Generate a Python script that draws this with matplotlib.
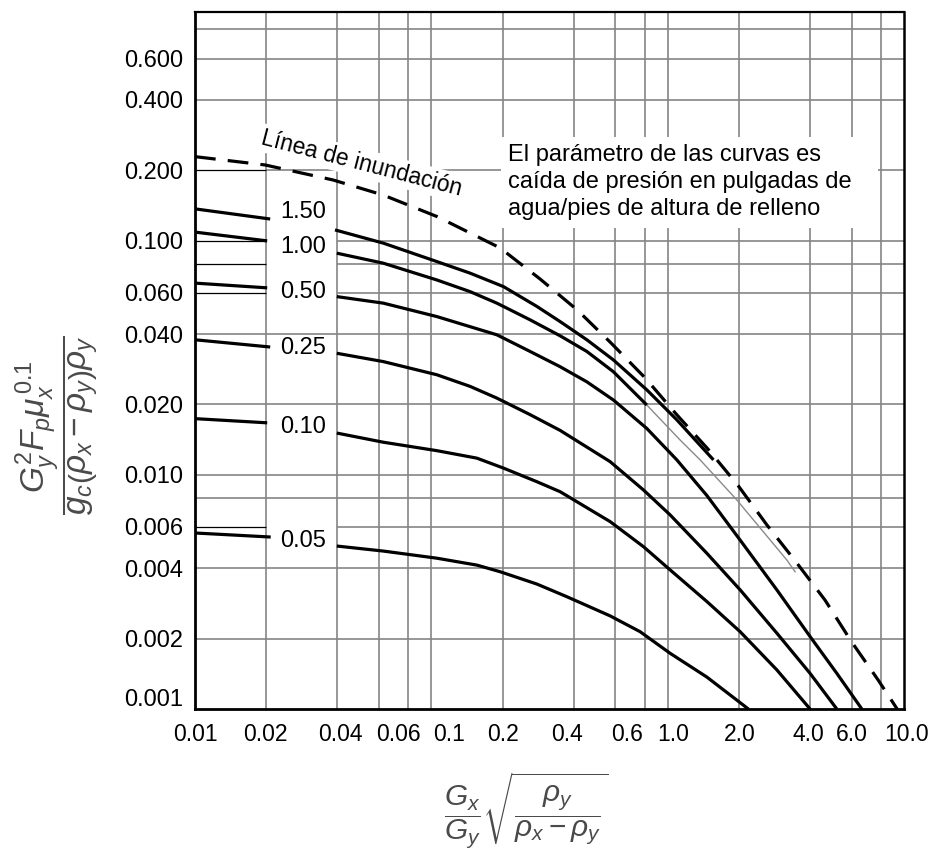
import matplotlib
matplotlib.use("Agg")
import matplotlib.pyplot as plt
from matplotlib.patches import Rectangle
from matplotlib.transforms import ScaledTranslation

plt.rcParams["font.family"] = ["Liberation Sans", "DejaVu Sans"]
plt.rcParams["mathtext.fontset"] = "custom"
plt.rcParams["mathtext.rm"] = "Liberation Sans"
plt.rcParams["mathtext.it"] = "Liberation Sans:italic"
plt.rcParams["mathtext.bf"] = "Liberation Sans:bold"

# ---- axis ticks -------------------------------------------------------
x_ticks = [0.01, 0.02, 0.04, 0.06, 0.1, 0.2, 0.4, 0.6, 1.0, 2.0, 4.0, 6.0, 10.0]
x_tick_labels = ["0.01", "0.02", "0.04", "0.06", "0.1", "0.2", "0.4", "0.6",
                 "1.0", "2.0", "4.0", "6.0", "10.0"]
y_ticks = [0.001, 0.002, 0.004, 0.006, 0.010, 0.020, 0.040, 0.060, 0.100,
           0.200, 0.400, 0.600]
y_tick_labels = ["0.001", "0.002", "0.004", "0.006", "0.010", "0.020", "0.040",
                 "0.060", "0.100", "0.200", "0.400", "0.600"]
x_grid = [0.02, 0.04, 0.06, 0.08, 0.1, 0.2, 0.4, 0.6, 0.8, 1.0, 2.0, 4.0, 6.0, 8.0]
y_grid = [0.002, 0.004, 0.006, 0.008, 0.01, 0.02, 0.04, 0.06, 0.08, 0.1,
          0.2, 0.4, 0.6, 0.8]

# ---- flooding line ----------------------------------------------------
flood_x = [0.01, 0.0198, 0.0384, 0.0625, 0.1057, 0.195, 0.288, 0.414, 0.576,
           0.802, 1.086, 1.48, 1.99, 2.63, 3.49, 4.63, 5.97, 7.77, 9.35]
flood_y = [0.229, 0.211, 0.182, 0.157, 0.127, 0.0934, 0.0688, 0.0507, 0.0366,
           0.026, 0.0182, 0.0129, 0.00898, 0.00611, 0.00425, 0.00292, 0.00195,
           0.00133, 0.001]

# ---- pressure-drop curves (in. water / ft packing) ----------------------
labels = ["1.50", "1.00", "0.50", "0.25", "0.10", "0.05"]

stub_x_150 = [0.01, 0.0208]
stub_y_150 = [0.137, 0.124]
x_150 = [0.0391, 0.0626, 0.1054, 0.1458, 0.2017, 0.2793, 0.3506, 0.4547,
         0.5891, 0.8156, 1.0927, 1.5612]
y_150 = [0.1114, 0.0978, 0.0816, 0.0728, 0.0638, 0.0525, 0.0452, 0.0378,
         0.0310, 0.0231, 0.0172, 0.0116]

stub_x_100 = [0.01, 0.0202]
stub_y_100 = [0.109, 0.100]
x_100 = [0.0398, 0.0626, 0.1054, 0.1458, 0.1892, 0.2616, 0.3506, 0.4547,
         0.5891, 0.8156]
y_100 = [0.0886, 0.0803, 0.0681, 0.0607, 0.0542, 0.0460, 0.0393, 0.0337,
         0.0276, 0.0199]
tail_x_100 = [0.8156, 1.1284, 1.3713, 1.9607, 3.1915, 3.4593]
tail_y_100 = [0.0199, 0.0141, 0.0116, 0.00782, 0.00433, 0.00386]

stub_x_050 = [0.01, 0.0202]
stub_y_050 = [0.066, 0.063]
x_050 = [0.0398, 0.0626, 0.1054, 0.1458, 0.1892, 0.2616, 0.3506, 0.4547,
         0.5891, 0.8156, 1.0927, 1.4670, 2.0247, 2.8947, 4.0027, 5.1951, 6.6284]
y_050 = [0.0578, 0.0542, 0.0475, 0.0430, 0.0397, 0.0337, 0.0290, 0.0250,
         0.0209, 0.0158, 0.0116, 0.00815, 0.00527, 0.00323, 0.00204, 0.00142,
         0.001]

stub_x_025 = [0.01, 0.0208]
stub_y_025 = [0.0378, 0.0352]
x_025 = [0.0398, 0.0626, 0.1054, 0.1458, 0.1892, 0.2616, 0.3506, 0.5705,
         0.7892, 1.0237, 1.4636, 2.0247, 2.8947, 4.0027, 5.1951]
y_025 = [0.0331, 0.0305, 0.0268, 0.0239, 0.0213, 0.0181, 0.0155, 0.0114,
         0.00863, 0.00675, 0.00463, 0.00323, 0.00211, 0.00142, 0.001]

stub_x_010 = [0.01, 0.0202]
stub_y_010 = [0.0174, 0.0167]
x_010 = [0.0398, 0.0626, 0.1054, 0.1557, 0.2017, 0.2793, 0.3506, 0.5705,
         0.7892, 1.0237, 1.4636, 2.0247, 2.8947, 4.0027]
y_010 = [0.0151, 0.0138, 0.0127, 0.0118, 0.0107, 0.00936, 0.00848, 0.00632,
         0.00494, 0.00393, 0.00288, 0.00214, 0.00147, 0.001]

stub_x_005 = [0.01, 0.0209]
stub_y_005 = [0.00565, 0.00543]
x_005 = [0.0398, 0.0626, 0.1054, 0.1557, 0.1953, 0.2793, 0.3740, 0.5705,
         0.7641, 1.0237, 1.4636, 2.1951]
y_005 = [0.00497, 0.00473, 0.00441, 0.00412, 0.00386, 0.00342, 0.00302,
         0.00250, 0.00214, 0.00173, 0.00137, 0.001]

label_x = 0.0286
label_y = [0.133, 0.0942, 0.0605, 0.0349, 0.016, 0.00522]

# ---- figure -----------------------------------------------------------
fig = plt.figure(figsize=(9.39, 8.52), dpi=100)
ax = fig.add_axes([0.2077, 0.1678, 0.7551, 0.8181])
ax.set_xscale("log")
ax.set_yscale("log")
ax.set_xlim(0.01, 10.0)
ax.set_ylim(0.001, 0.95)

grid_c = "#858585"
grid_lw = 1.2
ax.vlines(x_grid, 0.001, 0.95, color=grid_c, lw=grid_lw, zorder=1)
# horizontal lines that break around the curve-label column
broken = [0.006, 0.06, 0.08, 0.1]
for yv in y_grid:
    if yv in broken:
        ax.hlines(yv, 0.04, 10.0, color=grid_c, lw=grid_lw, zorder=1)
        ax.hlines(yv, 0.01, 0.02, color="black", lw=0.9, zorder=1.2)
    elif yv == 0.2:
        ax.hlines(yv, 0.02, 10.0, color=grid_c, lw=grid_lw, zorder=1)
        ax.hlines(yv, 0.01, 0.02, color="black", lw=0.9, zorder=1.2)
    else:
        ax.hlines(yv, 0.01, 10.0, color=grid_c, lw=grid_lw, zorder=1)

curve_kw = dict(color="black", lw=2.3, solid_capstyle="butt",
                solid_joinstyle="round", zorder=3)
for sx, sy in [(stub_x_150, stub_y_150), (stub_x_100, stub_y_100),
               (stub_x_050, stub_y_050), (stub_x_025, stub_y_025),
               (stub_x_010, stub_y_010), (stub_x_005, stub_y_005)]:
    ax.plot(sx, sy, **curve_kw)
for cx, cy in [(x_150, y_150), (x_100, y_100), (x_050, y_050),
               (x_025, y_025), (x_010, y_010), (x_005, y_005)]:
    ax.plot(cx, cy, **curve_kw)
ax.plot(tail_x_100, tail_y_100, color="#8a8a8a", lw=1.0, zorder=2.5)

ax.plot(flood_x, flood_y, color="black", lw=2.3, dashes=(6.5, 3.8),
        dash_capstyle="butt", zorder=3)

for lab, ly in zip(labels, label_y):
    ax.text(label_x, ly, lab, fontsize=17, ha="center", va="center", zorder=4,
            bbox=dict(facecolor="white", edgecolor="none", pad=1.5))

ax.text(0.0504, 0.215, "Línea de inundación", fontsize=16.5, rotation=-14.5,
        rotation_mode="anchor", ha="center", va="center", zorder=4,
        bbox=dict(facecolor="white", edgecolor="none", pad=2))

ax.add_patch(Rectangle((0.4316, 0.690), 0.532, 0.1307, transform=ax.transAxes,
                       facecolor="white", edgecolor="none", zorder=2))
ax.text(0.4415, 0.8104,
        "El parámetro de las curvas es\ncaída de presión en pulgadas de\n"
        "agua/pies de altura de relleno",
        transform=ax.transAxes, fontsize=17, ha="left", va="top",
        linespacing=1.3, zorder=4)

ax.set_xticks(x_ticks)
ax.set_xticklabels(x_tick_labels, fontsize=16.5)
ax.set_yticks(y_ticks)
ax.set_yticklabels(y_tick_labels, fontsize=17)
ax.minorticks_off()
ax.tick_params(axis="both", length=0)
ax.tick_params(axis="x", pad=10)
ax.tick_params(axis="y", pad=8.5)

# hand-lettered label placement along the x axis (pixel nudges)
x_label_shift = [0, -1, 3, 19, 18, 0, -7, 12, 5, 1, -2, 0, 2]
for lab, dx in zip(ax.get_xticklabels(), x_label_shift):
    lab.set_transform(lab.get_transform() +
                      ScaledTranslation(dx / 100, 0, fig.dpi_scale_trans))
lab0 = ax.get_yticklabels()[0]
lab0.set_transform(lab0.get_transform() +
                   ScaledTranslation(0, 12 / 100, fig.dpi_scale_trans))

for side, lw in [("left", 2.0), ("bottom", 2.0), ("top", 1.6), ("right", 1.8)]:
    ax.spines[side].set_linewidth(lw)
    ax.spines[side].set_color("black")
    ax.spines[side].set_zorder(5)

fig.text(57 / 939, 1 - 425 / 852,
         r"$\dfrac{G_y^2 F_p \mu_x^{\,0.1}}{g_c\left(\rho_x-\rho_y\right)\rho_y}$",
         rotation=90, ha="center", va="center", fontsize=24, color="#4a4a4a")
fig.text(526 / 939, 1 - 811 / 852,
         r"$\dfrac{G_x}{G_y}\sqrt{\dfrac{\rho_y}{\rho_x-\rho_y}}$",
         ha="center", va="center", fontsize=21.5, color="#4a4a4a")

fig.savefig("out.png", dpi=100)
